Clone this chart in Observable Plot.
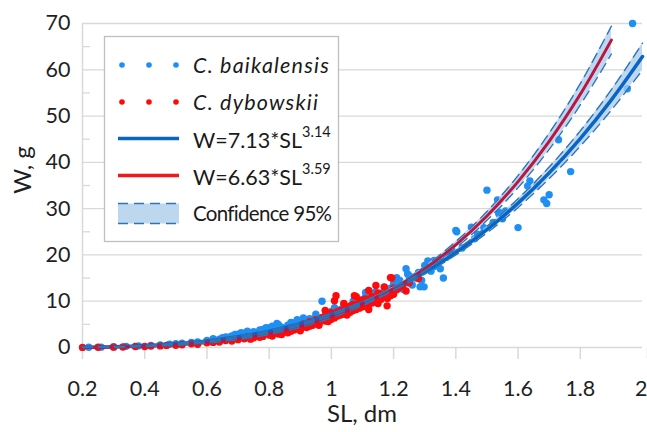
<!DOCTYPE html>
<html>
<head>
<meta charset="utf-8">
<script src="https://cdn.jsdelivr.net/npm/d3@7"></script>
<script src="https://cdn.jsdelivr.net/npm/@observablehq/plot@0.6"></script>
<style>
  html, body { margin: 0; padding: 0; background: #fff; }
  #chart { width: 647px; height: 432px; }
</style>
</head>
<body>
<div id="chart"></div>
<script>
// ---- Data ----
const baikalensisSL = [0.22,0.26,0.30,0.34,0.38,0.42,0.45,0.48,0.50,0.52,
  0.55,0.57,0.60,0.62,0.64,0.65,0.67,0.68,0.70,0.70,
  0.72,0.72,0.74,0.75,0.76,0.78,0.78,0.80,0.80,0.82,
  0.825,0.84,0.85,0.86,0.88,0.88,0.90,0.90,0.92,0.93,
  0.94,0.95,0.96,0.97,0.98,0.99,1.00,1.00,1.02,1.03,
  1.04,1.05,1.06,1.07,1.08,1.09,1.10,1.10,1.11,1.12,
  1.13,1.14,1.15,1.16,1.17,1.18,1.19,1.20,1.21,1.22,
  1.23,1.24,1.245,1.25,1.26,1.27,1.285,1.298,1.30,1.31,
  1.32,1.33,1.34,1.36,1.37,1.38,1.40,1.403,1.42,1.45,
  1.46,1.49,1.50,1.52,1.534,1.538,1.541,1.56,1.60,1.631,
  1.638,1.66,1.683,1.692,1.70,1.73,1.769,1.951,1.968,1.47,1.55,
  0.62,0.66,0.69,0.71,0.73,0.77,0.79,0.81,0.83,0.87,
  0.89,0.91,0.95,1.01,1.04,1.07,1.11,1.14,1.17,1.20,
  1.22,1.25,1.28,1.33,1.35,1.29];
const baikalensisW = [0.05,0.08,0.15,0.25,0.35,0.45,0.55,0.70,0.80,0.95,
  1.1,1.2,1.5,1.7,1.8,2.1,2.2,2.5,2.4,2.9,
  2.6,3.1,2.9,3.4,3.0,3.5,3.9,3.6,4.2,3.8,
  5.2,4.4,4.0,4.8,4.6,5.3,5.0,5.8,5.4,6.2,
  5.7,6.6,6.0,10.0,6.8,7.3,6.8,7.8,7.4,8.2,
  7.6,8.6,8.0,9.0,8.5,9.6,9.0,10.4,11.9,9.8,
  10.8,10.2,11.4,10.8,12.3,11.6,12.8,12.0,15.1,13.2,
  12.6,17.0,15.9,14.0,13.5,15.0,13.1,13.1,17.7,18.7,
  16.5,17.5,18.0,15.0,19.5,20.5,25.3,25.0,21.5,26.0,
  23.5,25.9,34.0,27.0,31.9,28.9,29.1,29.5,25.9,34.9,
  36.0,35.0,31.9,31.1,33.0,44.9,38.0,55.9,70.0,24.5,27.8,
  1.9,2.3,2.8,3.2,3.5,3.8,4.3,4.6,4.9,5.4,
  6.0,6.4,7.2,8.6,9.2,10.0,10.9,11.9,13.0,13.8,
  14.5,15.5,16.2,18.8,17.0,14.5];

const dybowskiiSL = [0.20,0.25,0.30,0.33,0.37,0.40,0.42,0.45,0.47,0.50,
  0.52,0.55,0.57,0.60,0.62,0.64,0.66,0.68,0.70,0.72,
  0.73,0.75,0.76,0.78,0.79,0.80,0.82,0.83,0.85,0.86,
  0.87,0.88,0.90,0.90,0.91,0.92,0.93,0.94,0.95,0.96,
  0.97,0.98,0.99,1.00,1.00,1.01,1.015,1.02,1.03,1.04,
  1.05,1.06,1.07,1.074,1.08,1.09,1.10,1.11,1.12,1.13,
  1.14,1.143,1.15,1.16,1.17,1.179,1.18,1.19,1.194,1.20,
  1.22,1.24,1.25,1.28,0.84,0.89,0.95,1.02,1.06,1.10,
  1.12,1.15,1.18,1.21,
  0.74,0.77,0.81,0.84,0.87,0.90,0.93,0.96,0.99,1.01,
  1.03,1.05,1.07,1.09,1.11,1.13,1.16,1.19,1.20,1.23,
  1.08,1.12,1.04,0.98];
const dybowskiiW = [0.02,0.05,0.08,0.12,0.20,0.22,0.30,0.35,0.45,0.50,
  0.60,0.80,0.70,1.0,1.1,1.2,1.5,1.4,1.7,1.9,
  2.3,2.1,2.6,2.4,3.0,2.7,3.4,2.9,3.7,3.2,
  4.2,3.8,4.5,3.9,5.1,4.3,5.6,4.8,6.0,5.2,
  6.5,5.7,7.0,6.1,7.5,10.1,11.2,6.8,8.0,7.2,
  8.6,7.6,9.3,11.2,8.2,10.0,8.8,10.5,9.3,11.0,
  9.8,13.4,11.8,10.4,13.1,9.0,12.0,15.1,15.0,11.5,
  13.0,12.2,14.0,14.9,3.3,4.4,5.5,7.8,9.0,10.2,
  8.2,9.5,10.6,12.5,
  1.8,2.2,2.5,2.8,3.5,3.6,4.6,4.8,5.6,6.4,
  7.0,7.0,8.0,8.5,9.0,9.6,11.5,11.2,12.8,13.5,
  11.0,12.3,9.5,8.0];

// fitted curves (W=7.13*SL^3.14 and W=6.63*SL^3.59), values read at SL steps
const fitBlueSL = [0.2,0.3,0.4,0.5,0.6,0.7,0.8,0.9,1.0,1.1,1.2,1.3,1.4,1.5,1.6,1.7,1.8,1.9,2.0];
const fitBlueW  = [0.05,0.16,0.40,0.81,1.43,2.33,3.54,5.12,7.13,9.62,12.64,16.25,20.51,25.47,31.19,37.73,45.15,53.50,62.86];
const fitBlueLo = [0.00,0.10,0.32,0.71,1.31,2.19,3.38,4.94,6.93,9.38,12.34,15.87,20.01,24.77,30.24,36.48,43.50,51.30,59.96];
const fitBlueHi = [0.10,0.22,0.48,0.91,1.55,2.47,3.70,5.30,7.33,9.86,12.94,16.63,21.01,26.17,32.14,38.98,46.80,55.70,65.76];

const fitRedSL = [0.2,0.3,0.4,0.5,0.6,0.7,0.8,0.9,1.0,1.1,1.2,1.3,1.4,1.5,1.6,1.7,1.8,1.9];
const fitRedW  = [0.02,0.09,0.25,0.55,1.06,1.84,2.98,4.54,6.63,9.34,12.76,17.01,22.19,28.42,35.84,44.55,54.70,66.41];
const fitRedLo = [0.00,0.04,0.18,0.46,0.95,1.71,2.82,4.34,6.39,9.04,12.38,16.51,21.49,27.47,34.54,42.80,52.40,63.41];
const fitRedHi = [0.06,0.14,0.32,0.64,1.17,1.97,3.14,4.74,6.87,9.64,13.14,17.51,22.89,29.37,37.14,46.30,57.00,69.41];

const xTicks = [0.2,0.4,0.6,0.8,1,1.2,1.4,1.6,1.8];
const xLastTick = [2];
const yTicks = [0,10,20,30,40,50,60,70];
const yMinor = [5,15,25,35,45,55,65];

const legendLabels = ["C. baikalensis", "C. dybowskii", "W=7.13*SL", "3.14", "W=6.63*SL", "3.59", "Confidence 95%"];

// ---- tables ----
const blue = baikalensisSL.map((s, i) => ({sl: s, w: baikalensisW[i]}));
const red = dybowskiiSL.map((s, i) => ({sl: s, w: dybowskiiW[i]}));
const blueFit = fitBlueSL.map((s, i) => ({sl: s, w: fitBlueW[i], lo: fitBlueLo[i], hi: fitBlueHi[i]}));
const redFit = fitRedSL.map((s, i) => ({sl: s, w: fitRedW[i], lo: fitRedLo[i], hi: fitRedHi[i]}));

const FONT = "Lato, 'Open Sans', sans-serif";
const BLUE_DOT = "#1e8ff5", RED_DOT = "#ff0a0a";
const BLUE_LINE = "#0865c4", RED_LINE = "#bb1640";
const BAND = "#a9cbec", BAND_EDGE = "#2e75b6";
const GRID = "#d9d9d9";
const fmt = d => String(+d.toFixed(1));

const svg = Plot.plot({
  width: 647, height: 432,
  marginLeft: 82, marginRight: 5, marginTop: 23, marginBottom: 85,
  style: {fontFamily: FONT, background: "#fff", color: "#262626"},
  x: {domain: [0.2, 2]},
  y: {domain: [0, 70]},
  marks: [
    Plot.ruleY(yTicks.slice(1), {stroke: GRID, strokeWidth: 1.3}),
    Plot.tickY(yMinor, {stroke: GRID, strokeWidth: 1.3, insetRight: 552}),
    Plot.ruleX([0.2], {stroke: GRID, strokeWidth: 1.5}),
    Plot.ruleY([0], {stroke: GRID, strokeWidth: 1.5}),
    Plot.axisX({ticks: xTicks, tickSize: 12, tickPadding: 21, stroke: GRID, strokeWidth: 1.5,
      fill: "#1f1f1f", fontSize: 21.5, label: null, tickFormat: fmt}),
    Plot.axisX({ticks: xLastTick, tickSize: 12, tickPadding: 21, stroke: GRID, strokeWidth: 1.5,
      fill: "#1f1f1f", fontSize: 21.5, label: null, tickFormat: fmt, textAnchor: "end", dx: 5}),
    Plot.axisY({ticks: yTicks, tickSize: 0, tickPadding: 12, fill: "#1f1f1f", fontSize: 21.5, label: null,
      tickFormat: d => String(d)}),
    Plot.dot(blue, {x: "sl", y: "w", r: 3.7, fill: BLUE_DOT}),
    Plot.dot(red, {x: "sl", y: "w", r: 3.7, fill: RED_DOT}),
    Plot.areaY(blueFit, {x: "sl", y1: "lo", y2: "hi", fill: BAND, fillOpacity: 0.75, curve: "catmull-rom"}),
    Plot.areaY(redFit, {x: "sl", y1: "lo", y2: "hi", fill: BAND, fillOpacity: 0.75, curve: "catmull-rom"}),
    Plot.line(blueFit, {x: "sl", y: "w", stroke: BLUE_LINE, strokeWidth: 3.5, curve: "catmull-rom"}),
    Plot.line(redFit, {x: "sl", y: "w", stroke: RED_LINE, strokeWidth: 3, curve: "catmull-rom"}),
    Plot.line(blueFit, {x: "sl", y: "lo", stroke: BAND_EDGE, strokeWidth: 1.4, strokeDasharray: "10,6", curve: "catmull-rom"}),
    Plot.line(blueFit, {x: "sl", y: "hi", stroke: BAND_EDGE, strokeWidth: 1.4, strokeDasharray: "10,6", curve: "catmull-rom"}),
    Plot.line(redFit, {x: "sl", y: "lo", stroke: BAND_EDGE, strokeWidth: 1.4, strokeDasharray: "10,6", curve: "catmull-rom"}),
    Plot.line(redFit, {x: "sl", y: "hi", stroke: BAND_EDGE, strokeWidth: 1.4, strokeDasharray: "10,6", curve: "catmull-rom"})
  ]
});

// ---- axis titles and legend ----
const s = d3.select(svg);
s.append("text").attr("x", 362).attr("y", 422).attr("text-anchor", "middle")
  .attr("font-family", FONT).attr("font-size", 24).attr("fill", "#1f1f1f").text("SL, dm");
s.append("text").attr("transform", "translate(31,170) rotate(-90)").attr("text-anchor", "middle")
  .attr("font-family", FONT).attr("font-size", 24).attr("fill", "#1f1f1f").text("W, g");

const lg = s.append("g").attr("font-family", FONT).attr("fill", "#1a1a1a").attr("text-anchor", "start");
lg.append("rect").attr("x", 104.5).attr("y", 36.5).attr("width", 234).attr("height", 205)
  .attr("fill", "#fff").attr("stroke", "#bfbfbf").attr("stroke-width", 1.3);
[122, 149, 176].forEach(cx => {
  lg.append("circle").attr("cx", cx).attr("cy", 65).attr("r", 2.8).attr("fill", BLUE_DOT);
  lg.append("circle").attr("cx", cx).attr("cy", 102).attr("r", 2.8).attr("fill", RED_DOT);
});
lg.append("text").attr("x", 193).attr("y", 73).attr("font-size", 21.5).attr("font-style", "italic")
  .attr("letter-spacing", 1.2).text(legendLabels[0]);
lg.append("text").attr("x", 193).attr("y", 110).attr("font-size", 21.5).attr("font-style", "italic")
  .attr("letter-spacing", 1.2).text(legendLabels[1]);
lg.append("line").attr("x1", 118).attr("x2", 179).attr("y1", 138.5).attr("y2", 138.5).attr("stroke", BLUE_LINE).attr("stroke-width", 3.5);
const t1 = lg.append("text").attr("x", 193).attr("y", 148).attr("font-size", 21.5);
t1.append("tspan").text(legendLabels[2]);
t1.append("tspan").attr("dy", -11).attr("font-size", 14.5).text(legendLabels[3]);
lg.append("line").attr("x1", 118).attr("x2", 179).attr("y1", 175.5).attr("y2", 175.5).attr("stroke", "#f01818").attr("stroke-width", 3.5);
const t2 = lg.append("text").attr("x", 193).attr("y", 185).attr("font-size", 21.5);
t2.append("tspan").text(legendLabels[4]);
t2.append("tspan").attr("dy", -11).attr("font-size", 14.5).text(legendLabels[5]);
lg.append("rect").attr("x", 118).attr("y", 203.5).attr("width", 61).attr("height", 20).attr("fill", "#bdd7ee");
[203.5, 223.5].forEach(y => lg.append("line").attr("x1", 118).attr("x2", 179).attr("y1", y).attr("y2", y)
  .attr("stroke", BAND_EDGE).attr("stroke-width", 1.4).attr("stroke-dasharray", "10,6"));
lg.append("text").attr("x", 193).attr("y", 221).attr("font-size", 20.5).attr("letter-spacing", -0.7).text(legendLabels[6]);

document.getElementById("chart").appendChild(svg);
</script>
</body>
</html>
